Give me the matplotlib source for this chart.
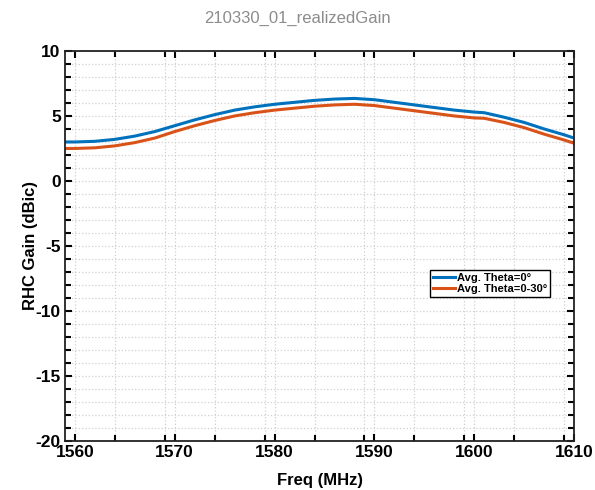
import matplotlib.pyplot as plt
import numpy as np

plt.rcParams['font.family'] = ['Liberation Sans', 'DejaVu Sans']
plt.rcParams['axes.unicode_minus'] = False

# data
freq = [1559, 1560, 1562, 1564, 1566, 1568, 1570, 1572, 1574, 1576, 1578, 1580,
        1582, 1584, 1586, 1588, 1590, 1592, 1594, 1596, 1598, 1600, 1601, 1603,
        1605, 1607, 1609, 1610]
gain_0 = [3.0, 3.0, 3.05, 3.2, 3.45, 3.8, 4.25, 4.7, 5.1, 5.45, 5.7, 5.9,
          6.05, 6.2, 6.3, 6.35, 6.25, 6.05, 5.85, 5.65, 5.45, 5.3, 5.25, 4.9,
          4.5, 4.0, 3.55, 3.3]
gain_0_30 = [2.5, 2.5, 2.55, 2.7, 2.95, 3.3, 3.8, 4.25, 4.65, 5.0, 5.25, 5.45,
             5.6, 5.75, 5.85, 5.9, 5.8, 5.6, 5.4, 5.2, 5.0, 4.85, 4.82, 4.5,
             4.1, 3.6, 3.15, 2.9]
labels = ['Avg. Theta=0°', 'Avg. Theta=0-30°']
x_ticks = [1560, 1570, 1580, 1590, 1600, 1610]
x_minor = list(range(1564, 1610, 5))
y_ticks = [-20, -15, -10, -5, 0, 5, 10]

fig = plt.figure(figsize=(5.95, 4.9), dpi=100)
ax = fig.add_axes([0.109, 0.1, 0.856, 0.796])

ax.plot(freq, gain_0, color='#0072BD', linewidth=2.2, label=labels[0])
ax.plot(freq, gain_0_30, color='#D95319', linewidth=2.2, label=labels[1])

ax.set_xlim(1559, 1610)
ax.set_ylim(-20, 10)
ax.set_xticks(x_ticks)
ax.set_xticks(x_minor, minor=True)
ax.set_yticks(y_ticks)
ax.set_yticks(np.arange(-20, 11, 1), minor=True)

# 网格：虚线、浅灰
ax.grid(which='both', color='#d0d0d0', linestyle=':', linewidth=0.9)
ax.tick_params(which='both', direction='in', top=True, right=True)
ax.tick_params(which='major', length=5, width=1.5, labelsize=12.5, pad=3)
ax.tick_params(which='minor', length=4, width=1.5)
for lab in ax.get_xticklabels() + ax.get_yticklabels():
    lab.set_fontweight('bold')
for sp in ax.spines.values():
    sp.set_linewidth(1.3)
    sp.set_color('#222222')

ax.set_xlabel('Freq (MHz)', fontsize=12, fontweight='bold')
ax.set_ylabel('RHC Gain (dBic)', fontsize=12, fontweight='bold')
ax.xaxis.set_label_coords(0.5, -0.082)
ax.yaxis.set_label_coords(-0.053, 0.5)
fig.text(0.5, 0.963, '210330_01_realizedGain', ha='center', va='center',
         fontsize=12, color='#8c8c8c')

leg = ax.legend(loc='lower left', bbox_to_anchor=(0.717, 0.369),
                prop={'size': 8, 'weight': 'bold'}, fancybox=False,
                framealpha=1, edgecolor='black', handlelength=2.0,
                handletextpad=0.2, borderpad=0.25, labelspacing=0.15,
                borderaxespad=0)
leg.get_frame().set_linewidth(1.0)

plt.savefig('out.png', dpi=100)
